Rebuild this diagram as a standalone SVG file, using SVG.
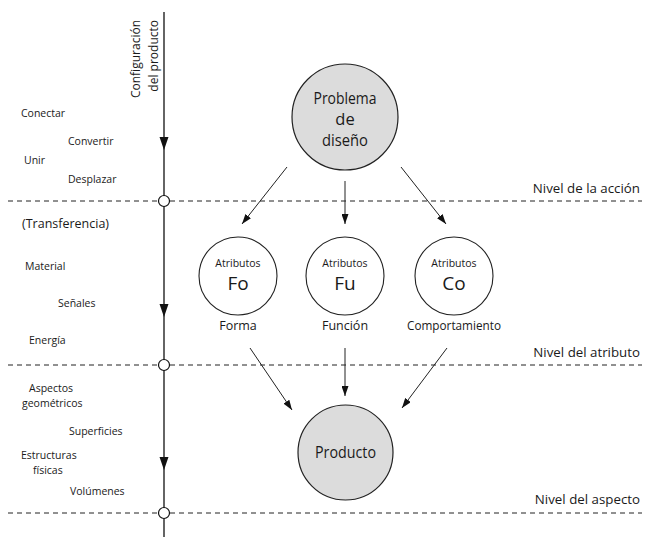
<svg xmlns="http://www.w3.org/2000/svg" width="646" height="537" viewBox="0 0 646 537">
<defs>
<style>
text{font-family:"Open Sans","Noto Sans","Liberation Sans",sans-serif;fill:#1a1a1a}
.s{font-size:10.5px}
.m{font-size:12px}
.lv{font-size:13.3px;text-anchor:end}
.c{text-anchor:middle}
.dash{stroke:#222;stroke-width:1;stroke-dasharray:5,4;fill:none}
.ax{stroke:#111;stroke-width:1.3;fill:none}
.big{fill:#dcdcdc;stroke:#222;stroke-width:1.2}
.att{fill:#fff;stroke:#222;stroke-width:1.1}
.con{stroke:#222;stroke-width:1;fill:none;marker-end:url(#ah)}
.knot{fill:#fff;stroke:#111;stroke-width:1.2}
</style>
<marker id="ah" viewBox="0 0 10 10" refX="10" refY="5" markerWidth="10" markerHeight="7" markerUnits="userSpaceOnUse" orient="auto" preserveAspectRatio="none">
<path d="M0,0 L10,5 L0,10 Z" fill="#111"/>
</marker>
</defs>

<g id="levels">
<line class="dash" x1="8" y1="201" x2="642" y2="201"/>
<line class="dash" x1="8" y1="365" x2="642" y2="365"/>
<line class="dash" x1="8" y1="513" x2="642" y2="513"/>
<text class="lv" x="640" y="193">Nivel de la acción</text>
<text class="lv" x="640" y="357">Nivel del atributo</text>
<text class="lv" x="640" y="504">Nivel del aspecto</text>
</g>

<g id="axis">
<line class="ax" x1="164" y1="12" x2="164" y2="537"/>
<path d="M159.5,137 L168.5,137 L164,150 Z" fill="#111"/>
<path d="M159.5,304 L168.5,304 L164,317 Z" fill="#111"/>
<path d="M159.5,457 L168.5,457 L164,470 Z" fill="#111"/>
<circle class="knot" cx="164" cy="201" r="5.5"/>
<circle class="knot" cx="164" cy="365" r="5.5"/>
<circle class="knot" cx="164" cy="513" r="5.5"/>
<text class="m" text-anchor="end" transform="translate(140,20) rotate(-90)">Configuración</text>
<text class="m" text-anchor="end" transform="translate(158,20) rotate(-90)">del producto</text>
</g>

<g id="left-labels">
<text class="s" x="21" y="117">Conectar</text>
<text class="s" x="68" y="145">Convertir</text>
<text class="s" x="24" y="164">Unir</text>
<text class="s" x="68" y="183">Desplazar</text>
<text x="22" y="228" style="font-size:12.5px">(Transferencia)</text>
<text class="s" x="25" y="270">Material</text>
<text class="s" x="58" y="307">Señales</text>
<text class="s" x="29" y="344">Energía</text>
<text class="s" x="29" y="392">Aspectos</text>
<text class="s" x="22" y="407">geométricos</text>
<text class="s" x="69" y="435">Superficies</text>
<text class="s" x="21" y="459">Estructuras</text>
<text class="s" x="33" y="474">físicas</text>
<text class="s" x="70" y="495">Volúmenes</text>
</g>

<g id="problema">
<circle class="big" cx="345" cy="117" r="53"/>
<text class="c" x="345" y="104" style="font-size:16.5px" textLength="63" lengthAdjust="spacingAndGlyphs">Problema</text>
<text class="c" x="345" y="125" style="font-size:16.5px">de</text>
<text class="c" x="345" y="146" style="font-size:16.5px" textLength="46" lengthAdjust="spacingAndGlyphs">diseño</text>
</g>

<g id="fo">
<circle class="att" cx="238" cy="276" r="39"/>
<text class="s c" x="238" y="267">Atributos</text>
<text class="c" x="238" y="290" style="font-size:19px">Fo</text>
<text class="m c" x="238" y="330" style="font-size:12.5px">Forma</text>
</g>

<g id="fu">
<circle class="att" cx="345" cy="276" r="39"/>
<text class="s c" x="345" y="267">Atributos</text>
<text class="c" x="345" y="290" style="font-size:19px">Fu</text>
<text class="m c" x="345" y="330" style="font-size:12.5px">Función</text>
</g>

<g id="co">
<circle class="att" cx="454" cy="276" r="39"/>
<text class="s c" x="454" y="267">Atributos</text>
<text class="c" x="454" y="290" style="font-size:19px">Co</text>
<text class="m c" x="454" y="330" style="font-size:12.5px" textLength="94" lengthAdjust="spacingAndGlyphs">Comportamiento</text>
</g>

<g id="producto">
<circle class="big" cx="345.5" cy="452.5" r="47.5"/>
<text class="c" x="345.5" y="458" style="font-size:16px" textLength="61" lengthAdjust="spacingAndGlyphs">Producto</text>
</g>

<g id="connectors">
<line class="con" x1="287" y1="167" x2="242" y2="224"/>
<line class="con" x1="345" y1="181" x2="345" y2="224"/>
<line class="con" x1="401" y1="167" x2="446" y2="224"/>
<line class="con" x1="250" y1="348" x2="292" y2="410"/>
<line class="con" x1="345" y1="348" x2="345" y2="396"/>
<line class="con" x1="447" y1="348" x2="402" y2="408"/>
</g>
</svg>
